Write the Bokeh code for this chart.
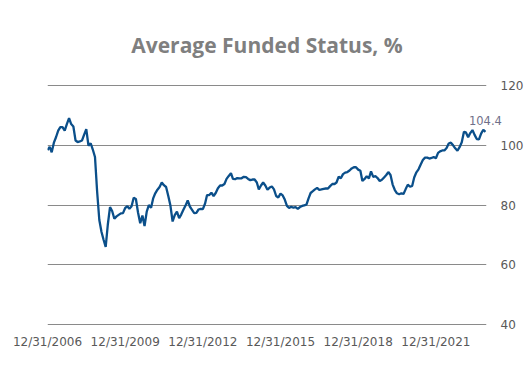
import pandas as pd
from bokeh.plotting import figure
from bokeh.models import Range1d, FixedTicker, DatetimeTickFormatter, ColumnDataSource
from bokeh.core.properties import value
from bokeh.embed import file_html
from bokeh.resources import INLINE

title_text = "Average Funded Status, %"
start_date = "2006-12-31"
funded = [
    98.3, 99.4, 97.6, 100.8, 102.6, 104.8, 106.0, 106.0, 104.8, 107.0,
    109.0, 107.0, 106.2, 101.5, 101.0, 101.2, 101.5, 103.5, 105.3, 99.8,
    100.6, 98.5, 96.0, 84.5, 75.0, 71.0, 68.5, 66.0, 73.5, 79.3,
    78.0, 75.4, 76.2, 76.7, 77.2, 77.3, 79.0, 79.6, 78.7, 79.6,
    82.4, 82.0, 77.5, 73.9, 76.5, 73.0, 77.8, 80.0, 79.1, 82.3,
    83.9, 85.1, 86.0, 87.5, 86.6, 86.0, 83.0, 79.8, 74.5, 76.6,
    77.8, 75.6, 76.8, 78.4, 79.8, 81.5, 79.5, 78.4, 77.3, 77.4,
    78.5, 78.7, 78.6, 80.5, 83.3, 83.3, 84.1, 83.0, 84.0, 85.6,
    86.5, 86.5, 87.0, 88.7, 89.7, 90.6, 88.7, 88.6, 89.0, 88.9,
    88.9, 89.4, 89.3, 88.7, 88.3, 88.5, 88.5, 87.5, 85.2, 86.5,
    87.5, 86.5, 85.1, 85.8, 86.2, 85.2, 83.0, 82.5, 83.8, 83.2,
    81.8, 79.7, 79.0, 79.4, 79.1, 79.3, 78.7, 79.3, 79.7, 79.9,
    80.1, 82.3, 84.0, 84.6, 85.2, 85.7, 85.0, 85.2, 85.4, 85.5,
    85.5, 86.3, 87.0, 87.0, 87.5, 89.5, 88.9, 90.3, 90.8, 91.0,
    91.5, 92.2, 92.6, 92.6, 91.8, 91.4, 88.0, 88.7, 89.6, 88.9,
    91.2, 89.4, 89.6, 89.0, 88.0, 88.4, 89.2, 90.0, 91.0, 90.0,
    86.8, 85.0, 83.9, 83.6, 83.9, 83.7, 85.3, 86.8, 86.1, 86.4,
    89.2, 90.9, 91.9, 93.5, 95.0, 95.8, 95.8, 95.5, 95.7, 96.0,
    95.6, 97.4, 97.9, 98.2, 98.2, 99.0, 100.5, 100.8, 99.9, 98.9,
    98.1, 99.3, 100.9, 104.4, 104.2, 102.6, 104.0, 105.0, 103.4, 102.0,
    101.9, 103.8, 105.1, 104.4,
]
tick_dates = ["2006-12-31", "2009-12-31", "2012-12-31", "2015-12-31", "2018-12-31", "2021-12-31"]
y_ticks = [40, 60, 80, 100, 120]
y_tick_labels = ["40", "60", "80", "100", "120"]

dates = pd.date_range(start_date, periods=len(funded), freq="ME")
src = ColumnDataSource(dict(x=dates, y=funded))
x_start, x_end = pd.Timestamp("2006-12-31"), pd.Timestamp("2023-12-15")

p = figure(width=530, height=371, output_backend="svg", toolbar_location=None,
           x_axis_type="datetime",
           x_range=Range1d(x_start, x_end),
           y_range=Range1d(39.8, 120.2),
           min_border_left=47, min_border_right=44, min_border_top=84, min_border_bottom=46,
           y_axis_location=None)
p.outline_line_color = None
p.background_fill_color = "white"
p.border_fill_color = "white"

p.title.text = title_text
p.title.align = "center"
p.title.offset = -5
p.title.text_font = "Open Sans"
p.title.text_font_style = "bold"
p.title.text_font_size = "21px"
p.title.text_color = "#7f7f7f"
p.title.standoff = 51

p.line("x", "y", source=src, line_color="#0b4f8a", line_width=2.3)

last_label = p.text(x=[dates[-1]], y=[funded[-1]], text=[f"{funded[-1]:.1f}"],
                    text_align="center", text_baseline="bottom", y_offset=-7,
                    text_font=value("DejaVu Sans"), text_font_size="11.5px",
                    text_color="#6f6f8a")
last_label.level = "overlay"

# right-hand value labels
ylab = p.text(x=[x_end] * len(y_ticks), y=y_ticks, text=y_tick_labels,
              text_align="left", text_baseline="middle", x_offset=14,
              text_font=value("DejaVu Sans"), text_font_size="12px",
              text_color="#595959")
ylab.level = "overlay"

# x axis
xa = p.xaxis[0]
xa.ticker = FixedTicker(ticks=[pd.Timestamp(d).value / 1e6 for d in tick_dates])
xa.formatter = DatetimeTickFormatter(days="%m/%d/%Y", months="%m/%d/%Y", years="%m/%d/%Y")
xa.axis_line_color = None
xa.major_tick_line_color = None
xa.minor_tick_line_color = None
xa.major_tick_out = 0
xa.minor_tick_out = 0
xa.major_label_standoff = 9
xa.major_label_text_font = "DejaVu Sans"
xa.major_label_text_font_size = "12px"
xa.major_label_text_color = "#595959"

p.xgrid.grid_line_color = None
p.ygrid.ticker = FixedTicker(ticks=y_ticks)
p.ygrid.grid_line_color = "#8a8a8a"
p.ygrid.grid_line_width = 1.2

open("out.html", "w").write(file_html(p, INLINE))
